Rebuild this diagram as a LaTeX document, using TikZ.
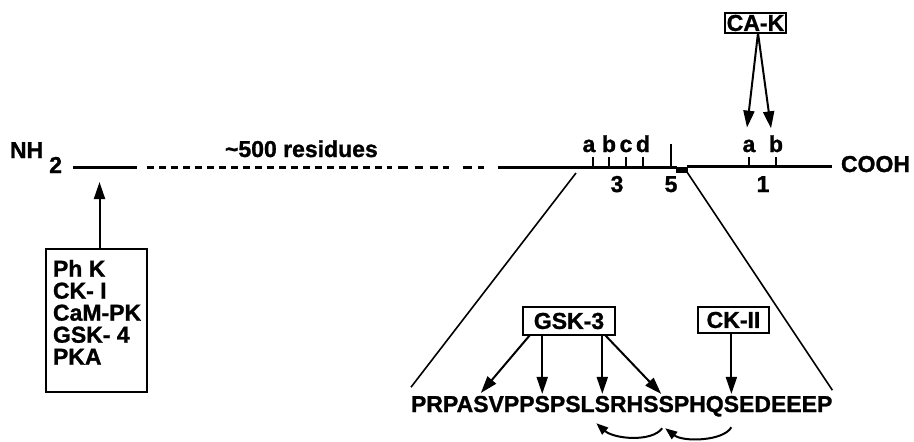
\documentclass[tikz,border=0pt]{standalone}
\usepackage{fontspec}
\setmainfont{Liberation Sans}[BoldFeatures={FakeBold=1.2}]
\usetikzlibrary{arrows.meta}
\begin{document}
\begin{tikzpicture}[x=1pt,y=-1pt,
  txt/.style={font=\fontsize{23}{22}\selectfont\bfseries, inner sep=0pt, outer sep=0pt},
  boxed/.style={txt, draw, line width=1.4pt},
  arr/.style={line width=2pt, -{Triangle[length=17pt,width=11pt]}},
  carr/.style={line width=2pt, -{Triangle[length=12pt,width=9pt]}},
  chain/.style={line width=3pt},
  tickline/.style={line width=1.3pt},
  zoomline/.style={line width=1.6pt}]
\useasboundingbox (0,0) rectangle (914,442);

% N-terminal part
\node[txt, anchor=base west] (nh) at (10,158) {NH\hspace{6pt}\raisebox{-15pt}{2}};
\draw[chain] (73,167) -- (137,167);
\draw[chain, dash pattern=on 6.5pt off 5.5pt] (147,167) -- (392,167);
\foreach \a/\b in {398/408, 415/423, 430/438, 443/449, 463/472, 478/484}
  \draw[chain] (\a,167) -- (\b,167);
\node[txt, anchor=base west] (res) at (225,157) {\textasciitilde 500 residues};

% C-terminal part
\draw[chain] (498,167) -- (677,167);
\fill (676,166.5) rectangle (688,172.5);
\draw[chain] (687,166) -- (832,166);
\node[txt, anchor=base west] (cooh) at (841,172) {COOH};

% ticks site 3 and 5
\foreach \x/\n in {593/a,609/b,626/c,643/d}
  \draw[tickline] (\x,157) -- (\x,167);
\foreach \x/\n in {589/a,609/b,626/c,643/d}
  \node[txt, anchor=base] (t\n) at (\x,152) {\n};
\draw[tickline] (671,144) -- (671,167);
\node[txt, anchor=base] (n3) at (617,192) {3};
\node[txt, anchor=base] (n5) at (671,192) {5};
% ticks site 1
\draw[tickline] (749,157) -- (749,166);
\draw[tickline] (776,157) -- (776,166);
\node[txt, anchor=base] (ra) at (749,152) {a};
\node[txt, anchor=base] (rb) at (776,152) {b};
\node[txt, anchor=base] (n1) at (763,192) {1};

% CA-K
\node[boxed, minimum width=61pt, minimum height=20pt] (cak) at (755.5,23) {CA-K};
\draw[arr] ([xshift=2.5pt]cak.south) -- ([xshift=-2pt,yshift=12pt]ra.north);
\draw[arr] ([xshift=2.5pt]cak.south) -- ([xshift=-5pt,yshift=7pt]rb.north);

% kinase box left
\node[draw, line width=1.4pt, minimum width=101pt, minimum height=143pt] (kbox) at (96.5,320.5) {};
\node[txt, anchor=north west, align=left] (klist) at (53,260) {Ph K\\CK- I\\CaM-PK\\GSK- 4\\PKA};
\coordinate (ksite) at (99.5,182);
\draw[arr] ([xshift=3pt]kbox.north) -- (ksite);

% sequence
\node[txt, anchor=base west] (q1) at (411,412) {PRPA};
\node[txt, anchor=base west] (s5) at (q1.base east) {S};
\node[txt, anchor=base west] (q2) at (s5.base east) {VPP};
\node[txt, anchor=base west] (s9) at (q2.base east) {S};
\node[txt, anchor=base west] (q3) at (s9.base east) {PSL};
\node[txt, anchor=base west] (s13) at (q3.base east) {S};
\node[txt, anchor=base west] (q4) at (s13.base east) {RHS};
\node[txt, anchor=base west] (s17) at (q4.base east) {S};
\node[txt, anchor=base west] (q5) at (s17.base east) {PHQ};
\node[txt, anchor=base west] (s21) at (q5.base east) {S};
\node[txt, anchor=base west] (q6) at (s21.base east) {EDEEEP};

% expansion lines
\coordinate (zl) at (576,173);
\coordinate (zr) at (687,172);
\draw[zoomline] (zl) -- ([yshift=9pt]q1.north west);
\draw[zoomline] (zr) -- ([yshift=6pt]q6.north east);

% GSK-3
\node[boxed, minimum width=92pt, minimum height=28pt] (gsk) at (569,321) {GSK-3};
\draw[arr] ([xshift=7pt]gsk.south west) -- ([yshift=3pt]s5.north);
\draw[arr] (gsk.south -| s9.north) -- ([yshift=2pt]s9.north);
\draw[arr] (gsk.south -| s13.north) -- ([yshift=2pt]s13.north);
\draw[arr] ([xshift=-10pt]gsk.south east) -- ([xshift=-5pt,yshift=2pt]s17.north);

% CK-II
\node[boxed, minimum width=71pt, minimum height=26pt] (ck) at (733.5,320) {CK-II};
\draw[arr] (ck.south -| s21.north) -- ([yshift=2pt]s21.north);

% curved arrows
\draw[carr] ([xshift=-4pt,yshift=-16pt]s17.south) .. controls +(-10,14) and +(18,16) .. ([xshift=-6pt,yshift=-11pt]s13.south);
\draw[carr] ([yshift=-15pt]s21.south) .. controls +(-8,14) and +(18,14) .. ([xshift=-1pt,yshift=-16pt]s17.south);
\end{tikzpicture}
\end{document}
